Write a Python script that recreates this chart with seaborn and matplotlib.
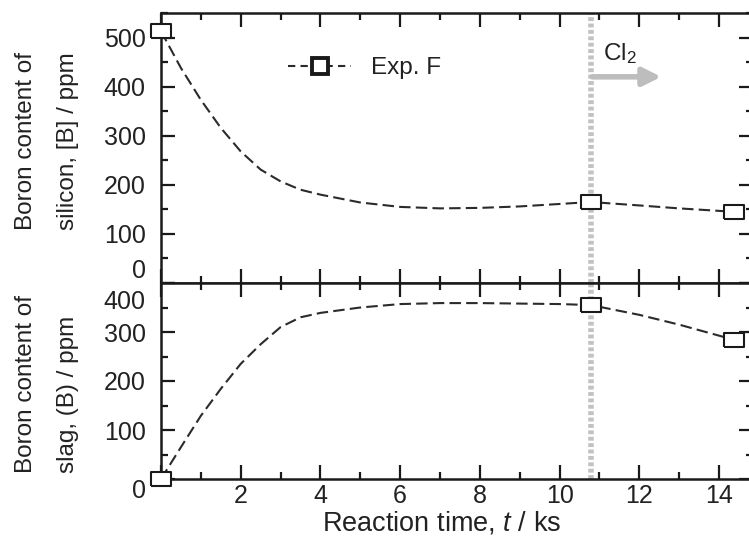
import numpy as np
import pandas as pd
import matplotlib
matplotlib.use("Agg")
import matplotlib.pyplot as plt
from matplotlib.lines import Line2D
from matplotlib.ticker import MultipleLocator
from matplotlib.transforms import ScaledTranslation
import seaborn as sns

sns.set_theme(style="ticks")
plt.rcParams['font.family'] = ['Liberation Sans', 'DejaVu Sans']
plt.rcParams['mathtext.fontset'] = 'custom'
plt.rcParams['mathtext.rm'] = 'Liberation Sans'
plt.rcParams['mathtext.it'] = 'Liberation Sans:italic'

# ---- data ----
exp_t = [0.0, 10.78, 14.38]
exp_si = [513, 165, 145]
exp_slag = [0, 355, 284]

fit_t_si = [0.0, 0.5, 1.0, 1.5, 2.0, 2.5, 3.0, 3.5, 4.0, 5.0, 6.0, 7.0, 8.0, 9.0, 10.0, 10.78, 12.0, 13.0, 14.38]
fit_si = [513, 438, 373, 316, 268, 231, 207, 190, 180, 164, 155, 152, 153, 156, 161, 165, 158, 152, 145]

fit_t_slag = [0.0, 0.5, 1.0, 1.5, 2.0, 2.5, 3.0, 3.5, 4.0, 5.0, 6.0, 7.0, 8.0, 9.0, 10.0, 10.78, 12.0, 13.0, 14.38]
fit_slag = [0, 65, 129, 184, 235, 275, 310, 330, 339, 350, 357, 359, 359, 358, 357, 355, 335, 315, 284]

cl2_time = 10.78
x_ticks = [0, 2, 4, 6, 8, 10, 12, 14]
x_ticklabels = ["", "2", "4", "6", "8", "10", "12", "14"]
si_ticks = [0, 100, 200, 300, 400, 500]
slag_ticks = [0, 100, 200, 300, 400]

df_fit_si = pd.DataFrame({"t": fit_t_si, "v": fit_si})
df_fit_slag = pd.DataFrame({"t": fit_t_slag, "v": fit_slag})
df_exp = pd.DataFrame({"t": exp_t, "si": exp_si, "slag": exp_slag})

W, H = 749, 541
fig = plt.figure(figsize=(W / 100, H / 100), dpi=100)
L, R, T, M, B = 161, 753, 13, 283, 479
ax1 = fig.add_axes([L / W, 1 - M / H, (R - L) / W, (M - T) / H])
ax2 = fig.add_axes([L / W, 1 - B / H, (R - L) / W, (B - M) / H], sharex=ax1)

line_col = "#2b2b2b"
edge_col = "#1a1a1a"
txt_col = "#222222"
rect = [(-1, -0.72), (1, -0.72), (1, 0.72), (-1, 0.72), (-1, -0.72)]
xmax = (R - L) / 39.86

for ax, dfit, col, ymax, yt in [(ax1, df_fit_si, "si", 550, si_ticks),
                                (ax2, df_fit_slag, "slag", 400, slag_ticks)]:
    ax.axvline(cl2_time, color="#c2c2c2", lw=4, ls=(0, (0.7, 0.45)), zorder=1)
    sns.lineplot(data=dfit, x="t", y="v", ax=ax, color=line_col, lw=1.5,
                 dashes=False, sort=False, zorder=2)
    ax.lines[-1].set_dashes([5.5, 2.5])
    sns.scatterplot(data=df_exp, x="t", y=col, ax=ax, marker=rect, s=14.6 ** 2,
                    facecolor="white", edgecolor=edge_col, linewidth=1.5,
                    zorder=5, clip_on=False)
    ax.set_ylim(0, ymax)
    ax.set_xlim(0, xmax)
    ax.set_yticks(yt)
    ax.set_yticklabels([str(v) for v in yt])
    ax.yaxis.set_minor_locator(MultipleLocator(50))
    ax.set_xticks(x_ticks)
    ax.xaxis.set_minor_locator(MultipleLocator(1))
    ax.tick_params(which="both", direction="in", top=True, right=True,
                   width=1.6, color=edge_col, labelsize=18, labelcolor=txt_col)
    ax.tick_params(which="major", length=10)
    ax.tick_params(which="minor", length=5)
    ax.tick_params(axis="y", pad=11)
    for s in ax.spines.values():
        s.set_linewidth(1.8)
        s.set_color(edge_col)
    ax.set_xlabel("")
    ax.set_ylabel("")

ax1.tick_params(axis="x", labelbottom=False)
ax2.set_xticklabels(x_ticklabels)
ax2.tick_params(axis="x", pad=3.5)

# tick labels at the shared border
ax1.get_yticklabels()[0].set_va("bottom")
lab400 = ax2.get_yticklabels()[-1]
lab400.set_va("top")
lab400.set_transform(lab400.get_transform() + ScaledTranslation(0, -0.07, fig.dpi_scale_trans))
ax2.get_yticklabels()[0].set_va("top")

# y labels (two start-aligned lines each)
def ylab(x_px, y_px, s):
    fig.text(x_px / W, 1 - y_px / H, s, rotation=90, rotation_mode="anchor",
             ha="left", va="baseline", fontsize=17.5, color=txt_col)

ylab(32, 230, "Boron content of")
ylab(74, 230, "silicon, [B] / ppm")
ylab(32, 473, "Boron content of")
ylab(74, 473, "slag, (B) / ppm")

fig.text(442 / W, 1 - 530 / H, "Reaction time, $\\mathit{t}$ / ks", ha="center",
         va="baseline", fontsize=19.5, color=txt_col)

# Cl2 arrow
ax1.annotate("", xy=(12.55, 420), xytext=(10.82, 420),
             arrowprops=dict(arrowstyle="-|>,head_length=0.9,head_width=0.45",
                             color="#bdbdbd", lw=4, shrinkA=0, shrinkB=0))
ax1.text(11.09, 455, "Cl$_2$", fontsize=17.5, ha="left", va="baseline", color=txt_col)

handle = Line2D([], [], color=line_col, lw=1.5, dashes=[3.5, 2.5], marker="s",
                markersize=12, markerfacecolor="white", markeredgecolor=edge_col,
                markeredgewidth=2.8)
leg = ax1.legend([handle], ["Exp. F"], loc="center left",
                 bbox_to_anchor=((288 - L) / (R - L), (M - 68) / (M - T)),
                 frameon=False, fontsize=17.5, handlelength=2.6, handletextpad=0.8,
                 borderpad=0, borderaxespad=0)
for t in leg.get_texts():
    t.set_color(txt_col)

fig.savefig("out.png", dpi=100)
